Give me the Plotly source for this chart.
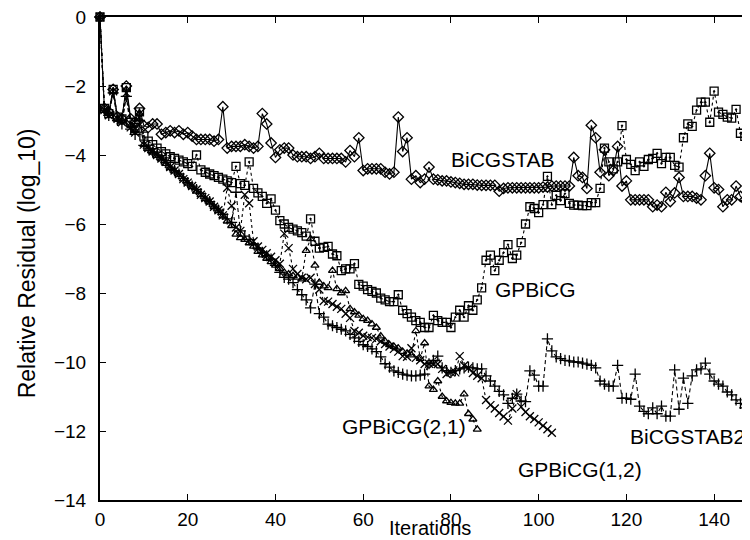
import plotly.graph_objects as go

# ---------------- data (log10 relative residual per iteration) ----------------
bicgstab = [0, -2.65, -2.75, -2.1, -2.9, -2.95, -2.0, -2.95, -3.05, -2.65,
            -3.15, -3.2, -3.1, -3.1, -3.4, -3.35, -3.3, -3.35, -3.3, -3.4,
            -3.35, -3.45, -3.55, -3.55, -3.55, -3.55, -3.6, -3.55, -2.6, -3.8,
            -3.75, -3.75, -3.75, -3.7, -3.75, -3.8, -3.75, -2.8, -3.1, -3.65,
            -4.07, -3.85, -3.8, -3.8, -4.0, -4.05, -4.05, -4.05, -4.1, -4.05,
            -3.95, -4.1, -4.1, -4.1, -4.1, -4.1, -4.2, -3.87, -4.05, -3.5,
            -4.45, -4.4, -4.4, -4.4, -4.4, -4.5, -4.55, -4.5, -2.9, -3.9,
            -3.5, -4.7, -4.6, -4.8, -4.7, -4.35, -4.7, -4.72, -4.75, -4.75,
            -4.78, -4.8, -4.82, -4.85, -4.85, -4.85, -4.87, -4.88, -4.88, -4.88,
            -4.88, -5.05, -4.97, -4.95, -4.95, -4.95, -4.95, -4.95, -4.95, -4.95,
            -4.95, -4.93, -4.93, -4.9, -4.9, -4.9, -4.9, -4.9, -4.07, -4.6,
            -4.65, -4.97, -3.14, -3.5, -4.5, -3.85, -4.6, -4.45, -3.75, -4.9,
            -4.75, -5.3, -5.3, -5.3, -5.3, -5.3, -5.5, -5.45, -5.5, -5.08,
            -5.35, -5.1, -4.65, -5.2, -5.2, -5.2, -5.25, -5.3, -4.6, -3.95,
            -4.95, -5.0, -5.5, -5.3, -5.3, -4.9, -5.2, -5.3, -5.3, -5.35]

gpbicg = [0, -2.65, -2.8, -2.1, -2.9, -2.95, -2.05, -3.05, -3.2, -2.75,
          -3.45, -3.6, -3.7, -3.8, -3.9, -3.97, -4.05, -4.1, -4.15, -4.2,
          -4.25, -4.33, -4.0, -4.43, -4.5, -4.55, -4.6, -4.65, -4.7, -4.75,
          -4.8, -4.33, -4.83, -4.88, -4.2, -4.97, -5.1, -5.2, -5.4, -5.27,
          -5.6, -5.9, -6.0, -6.1, -6.15, -6.2, -6.25, -6.35, -5.85, -6.5,
          -6.7, -6.68, -6.65, -6.87, -6.92, -7.35, -7.3, -7.3, -7.15, -7.75,
          -7.8, -7.9, -7.95, -8.0, -8.15, -8.2, -8.25, -8.25, -8.05, -8.5,
          -8.6, -8.7, -8.8, -8.85, -9.0, -9.0, -8.65, -8.8, -8.85, -8.85,
          -9.0, -8.7, -8.5, -8.7, -8.37, -8.5, -8.2, -7.85, -7.05, -6.9,
          -7.35, -7.05, -6.83, -6.6, -7.0, -6.9, -6.54, -6.0, -5.5, -5.55,
          -5.67, -5.44, -4.62, -5.44, -5.17, -5.32, -5.12, -5.4, -5.45, -5.45,
          -5.47, -5.47, -5.38, -5.38, -4.97, -3.8, -4.2, -4.4, -4.2, -3.15,
          -4.13, -4.27, -4.45, -4.2, -4.33, -4.13, -4.1, -3.95, -4.25, -4.07,
          -4.07, -4.3, -4.35, -3.5, -3.1, -3.17, -2.7, -2.47, -2.47, -3.05,
          -2.15, -2.76, -2.82, -2.9, -2.93, -2.68, -3.37, -3.46, -3.58]

gpbicg21 = [0, -2.65, -2.8, -2.15, -2.95, -3.0, -2.1, -3.15, -3.3, -2.8,
            -3.7, -3.82, -3.92, -4.02, -4.12, -4.25, -4.37, -4.47, -4.57, -4.7,
            -4.82, -4.92, -5.05, -5.15, -5.27, -5.37, -5.5, -5.62, -5.77, -5.92,
            -6.05, -6.3, -6.4, -6.45, -6.55, -6.65, -6.8, -6.9, -7.0, -7.1,
            -7.2, -7.3, -7.4, -7.45, -7.5, -7.55, -7.6, -6.77, -6.43, -7.2,
            -7.7, -7.8, -7.85, -7.35, -7.88, -8.0, -7.94, -8.46, -8.55, -8.65,
            -8.75, -8.8, -8.9, -9.0, -9.25, -9.4, -9.5, -9.55, -9.6, -9.7,
            -9.75, -9.8, -9.1, -9.9, -9.45, -10.7, -10.8, -10.55, -11.0, -11.13,
            -11.18, -11.2, -11.2, -10.93, -11.5, -11.66, -11.95]

gpbicg12 = [0, -2.7, -2.85, -2.15, -2.95, -3.05, -2.2, -3.2, -3.35, -2.9,
            -3.7, -3.8, -3.9, -4.0, -4.1, -4.2, -4.35, -4.45, -4.55, -4.7,
            -4.8, -4.9, -5.0, -5.15, -5.25, -5.35, -5.5, -5.6, -5.75, -4.95,
            -5.47, -6.1, -6.2, -5.15, -5.4, -6.5, -6.65, -6.75, -6.85, -6.95,
            -7.05, -7.15, -6.28, -6.7, -7.3, -7.45, -7.56, -7.6, -7.56, -7.74,
            -7.9, -8.23, -8.25, -8.32, -8.4, -8.46, -8.6, -8.72, -9.1, -9.15,
            -9.24, -9.28, -9.3, -9.33, -9.4, -9.48, -9.55, -9.62, -9.7, -9.83,
            -9.85, -9.6, -9.88, -9.95, -10.06, -10.05, -10.06, -10.06, -10.2, -10.35,
            -10.3, -10.3, -9.83, -10.1, -10.17, -10.32, -10.4, -10.47, -11.1, -11.25,
            -11.35, -11.48, -11.58, -11.7, -11.35, -10.93, -11.3, -11.45, -11.57, -11.65,
            -11.75, -11.85, -11.95, -12.05]

bicgstab2 = [0, -2.7, -2.85, -2.2, -3.0, -3.1, -2.3, -3.25, -3.4, -3.0,
             -3.72, -3.8, -3.92, -4.0, -4.12, -4.22, -4.35, -4.45, -4.55, -4.68,
             -4.8, -4.9, -5.0, -5.12, -5.25, -5.35, -5.48, -5.6, -5.72, -5.85,
             -5.95, -5.08, -6.2, -6.35, -6.45, -6.58, -6.7, -6.82, -6.92, -7.02,
             -7.2, -7.4, -7.55, -7.6, -7.7, -7.9, -8.05, -8.2, -8.43, -7.74,
             -8.6, -8.7, -8.9, -8.95, -9.0, -9.05, -9.1, -9.2, -9.3, -9.4,
             -9.5, -9.55, -9.62, -9.7, -9.85, -10.05, -10.15, -10.26, -10.3, -10.35,
             -10.38, -10.4, -10.4, -10.38, -10.35, -10.05, -9.95, -9.83, -10.17, -10.25,
             -10.3, -10.25, -10.2, -10.17, -10.15, -10.17, -10.2, -10.2, -10.4, -10.55,
             -10.7, -10.85, -10.95, -11.2, -11.05, -10.93, -11.13, -11.15, -10.26, -10.38,
             -10.7, -10.7, -9.33, -9.68, -9.85, -9.9, -9.95, -9.97, -10.0, -10.0,
             -10.03, -10.06, -10.1, -10.17, -10.55, -10.64, -10.7, -10.7, -10.1, -11.05,
             -11.05, -11.08, -10.35, -11.28, -11.43, -11.5, -11.33, -11.5, -11.28, -11.57,
             -11.57, -10.23, -11.37, -10.47, -11.2, -10.4, -10.23, -10.2, -10.03, -10.35,
             -10.55, -10.64, -10.7, -10.87, -10.95, -11.1, -11.2, -11.33, -11.43]

x_ticks = [0, 20, 40, 60, 80, 100, 120, 140]
y_ticks = [0, -2, -4, -6, -8, -10, -12, -14]

labels = ["BiCGSTAB", "GPBiCG", "GPBiCG(2,1)", "GPBiCG(1,2)", "BiCGSTAB2"]
label_x = [91.7, 99.2, 69.3, 109.4, 134.0]
label_y = [-4.14, -7.91, -11.88, -13.13, -12.17]

FONT = "Liberation Sans, Arial, Helvetica, sans-serif"

series = [
    (bicgstab, "diamond-open", 8, "solid", "BiCGSTAB"),
    (gpbicg, "square-open-dot", 8, "dot", "GPBiCG"),
    (gpbicg21, "triangle-up-open", 7, "dot", "GPBiCG(2,1)"),
    (gpbicg12, "x-thin-open", 8, "dot", "GPBiCG(1,2)"),
    (bicgstab2, "cross-thin-open", 8, "4px,3px", "BiCGSTAB2"),
]

fig = go.Figure()
for ys, sym, size, dash, name in series:
    fig.add_trace(go.Scatter(
        x=list(range(len(ys))), y=ys, mode="lines+markers", name=name,
        line=dict(color="black", width=1.1, dash=dash),
        marker=dict(symbol=sym, size=size, color="black",
                    line=dict(color="black", width=1.3)),
        cliponaxis=False, showlegend=False,
    ))

for t, lx, ly in zip(labels, label_x, label_y):
    fig.add_annotation(x=lx, y=ly, text=t, showarrow=False,
                       font=dict(family=FONT, size=21, color="black"),
                       xanchor="center", yanchor="middle")

fig.add_annotation(xref="paper", yref="paper", x=0.502, y=-0.057,
                   text="Iterations", showarrow=False,
                   font=dict(family=FONT, size=20, color="black"),
                   xanchor="center", yanchor="middle")
fig.add_annotation(xref="paper", yref="paper", x=-0.111, y=0.49,
                   text="Relative Residual (log_10)", showarrow=False, textangle=-90,
                   font=dict(family=FONT, size=23, color="black"),
                   xanchor="center", yanchor="middle")

# the page body adds an 8px offset; margins are set so the plot lands where the reference has it
fig.update_layout(
    width=750, height=540,
    margin=dict(l=92, r=0, t=9, b=48),
    paper_bgcolor="white", plot_bgcolor="white",
    font=dict(family=FONT, size=19, color="black"),
    xaxis=dict(range=[0, 150], tickvals=x_ticks, ticks="inside", ticklen=6,
               tickwidth=1.3, tickcolor="black", showline=True, linecolor="black",
               linewidth=2, mirror="ticks", showgrid=False, zeroline=False,
               ticklabelstandoff=1, ticklabeloverflow="allow"),
    yaxis=dict(range=[-14, 0], tickvals=y_ticks, ticks="inside", ticklen=6,
               tickwidth=1.3, tickcolor="black", showline=True, linecolor="black",
               linewidth=2, mirror=False, showgrid=False, zeroline=False,
               ticklabelstandoff=8, ticklabeloverflow="allow"),
)

fig.write_html("out.html")
